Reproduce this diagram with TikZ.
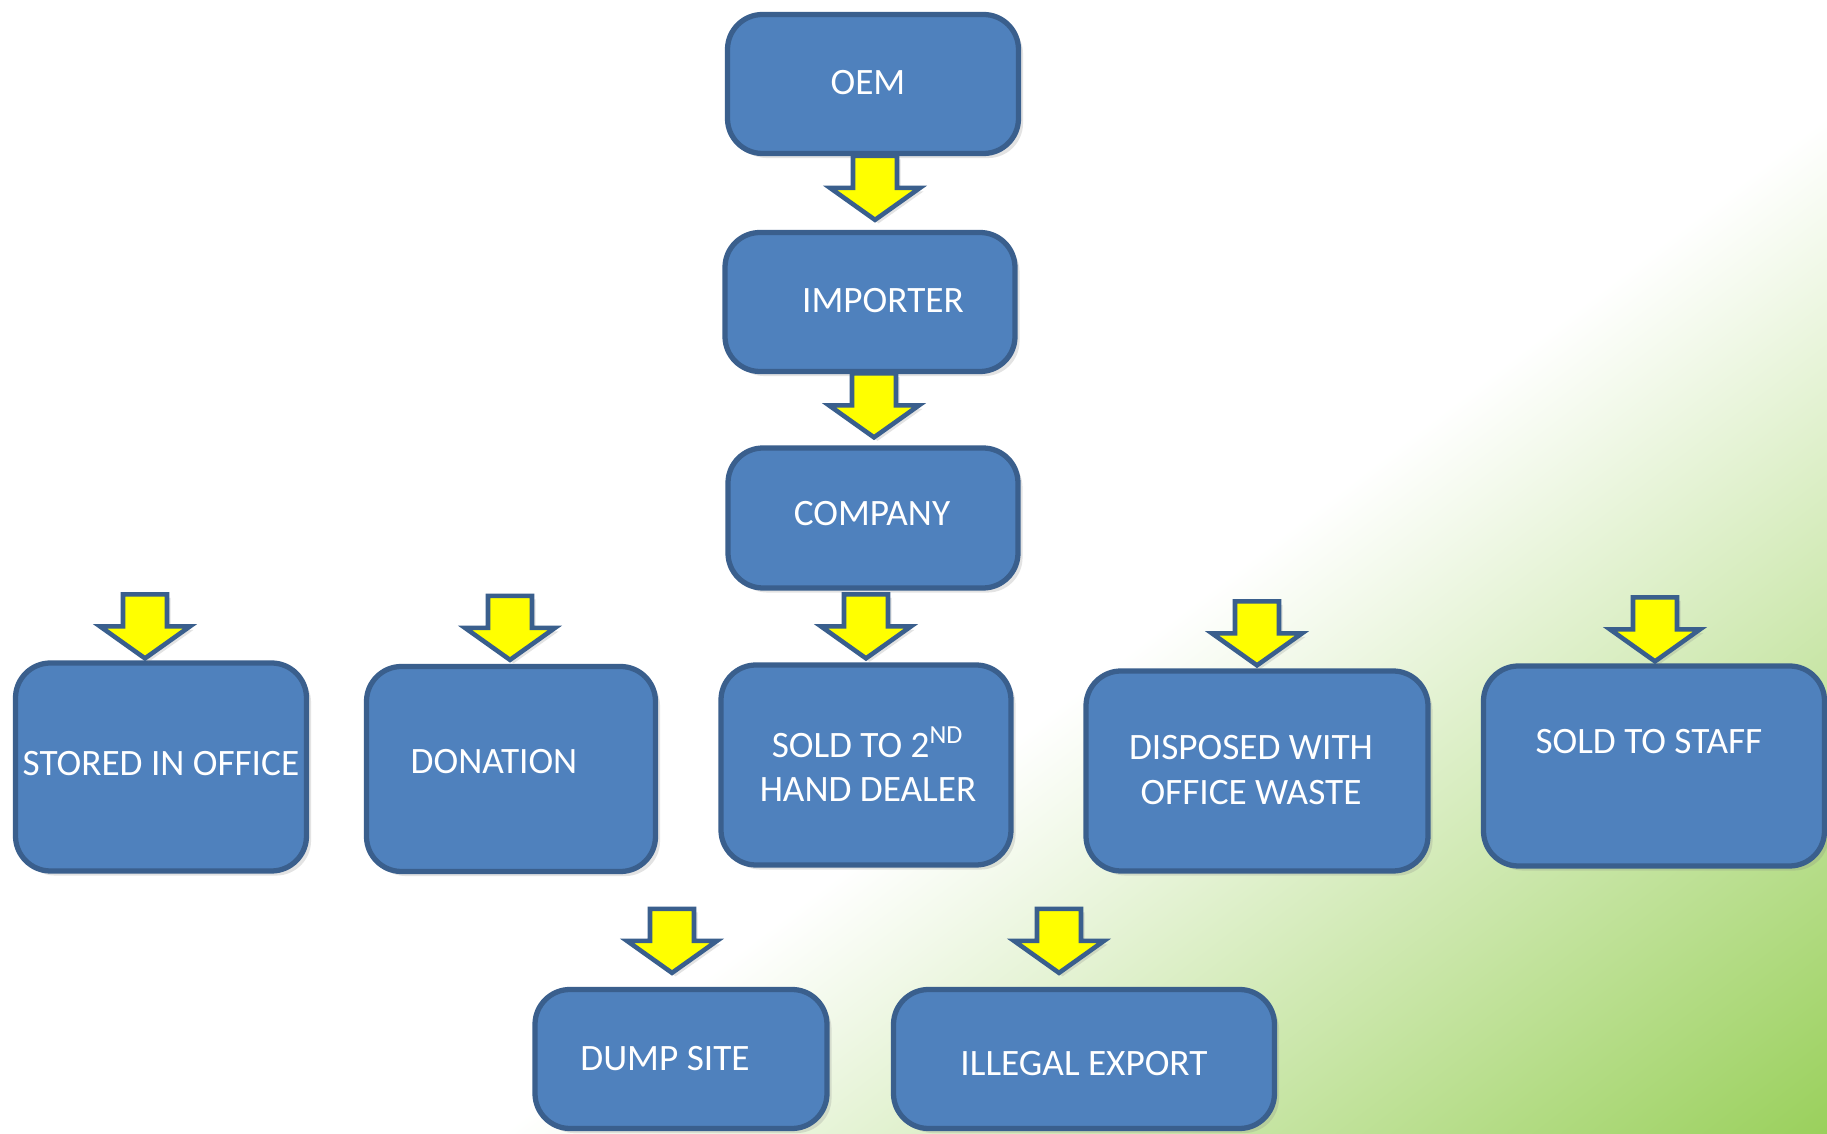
\documentclass[tikz,border=0pt]{standalone}
\usepackage{fontspec}
\setmainfont{Carlito}
\usetikzlibrary{calc,shadows}

\definecolor{boxfill}{HTML}{4F81BD}
\definecolor{boxline}{HTML}{3A5F8D}
\definecolor{bggreen}{HTML}{9AD05C}
\definecolor{arrowfill}{HTML}{FFFF00}

\tikzset{
	flowbox/.style={draw=boxline, line width=1.5pt, fill=boxfill, rounded corners=3.5mm,
		drop shadow={shadow xshift=1.3pt, shadow yshift=-1.3pt, opacity=.22}},
	boxtext/.style={text=white, align=center, inner sep=0pt,
		font=\fontsize{10.6}{12.6}\selectfont},
	downarrow/.pic={
		\draw [draw=boxline, line width=1.3pt, fill=arrowfill, line join=miter,
			drop shadow={shadow xshift=1pt, shadow yshift=-1pt, opacity=.22}]
			(-22,-64) -- (22,-64) -- (22,-32) -- (45,-32) -- (0,0) -- (-45,-32) -- (-22,-32) -- cycle;
	}
}

\begin{document}
\begin{tikzpicture}[x=0.1mm, y=-0.1mm]
			\useasboundingbox (0,0) rectangle (1827,1134);
			% white to green towards the lower right
			\begin{scope}
				\clip (0,0) rectangle (1827,1134);
				\fill [white] (0,0) rectangle (1827,1134);
				\shade [left color=white, right color=bggreen,
					transform canvas={rotate around={-52.5:(913.5,567)}}]
					(1111.5,-700) rectangle (1919.5,1800);
				\fill [bggreen, transform canvas={rotate around={-52.5:(913.5,567)}}]
					(1919,-700) rectangle (2200,1800);
			\end{scope}
			
			% chain from the maker down
			\node [flowbox, minimum width=29.1mm, minimum height=13.9mm] (oem) at (873,84) {};
			\node [flowbox, minimum width=29mm, minimum height=13.9mm] (importer) at (870,302) {};
			\node [flowbox, minimum width=29mm, minimum height=14mm] (company) at (873,518) {};
			\node [boxtext] (oemtxt) at (868,83) {OEM};
			\node [boxtext] (importertxt) at (883,301) {IMPORTER};
			\node [boxtext] (companytxt) at (872,514) {COMPANY};
			
			% where it ends up
			\node [flowbox, minimum width=29.1mm, minimum height=20.8mm] (stored) at (161,767) {};
			\node [flowbox, minimum width=28.9mm, minimum height=20.5mm] (donation) at (511,769) {};
			\node [flowbox, minimum width=29mm, minimum height=20mm] (dealer) at (866,765) {};
			\node [flowbox, minimum width=34.2mm, minimum height=20mm] (disposed) at (1257,771) {};
			\node [flowbox, minimum width=34.1mm, minimum height=20mm] (staff) at (1654,766) {};
			\node [boxtext] (storedtxt) at (161,764) {STORED IN OFFICE};
			\node [boxtext] (donationtxt) at (494,762) {DONATION};
			\node [boxtext] (dealertxt) at (868,764) {SOLD TO 2\textsuperscript{ND}\\HAND DEALER};
			\node [boxtext] (disposedtxt) at (1251,770) {DISPOSED WITH\\OFFICE WASTE};
			\node [boxtext] (stafftxt) at (1649,742) {SOLD TO STAFF};
			
			\node [flowbox, minimum width=29.2mm, minimum height=13.9mm] (dump) at (681,1059) {};
			\node [flowbox, minimum width=38.1mm, minimum height=13.9mm] (illegal) at (1084,1059) {};
			\node [boxtext] (dumptxt) at (665,1059) {DUMP SITE};
			\node [boxtext] (illegaltxt) at (1084,1064) {ILLEGAL EXPORT};
			
			% block arrows, tip on the box below
			\pic at ($(importer.north)+(5,-10)$) {downarrow};
			\pic at ($(company.north)+(1,-8)$) {downarrow};
			\pic at ($(dealer.north)+(0,-4)$) {downarrow};
			\pic at ($(stored.north)+(-16,-2)$) {downarrow};
			\pic at ($(donation.north)+(-1,-4)$) {downarrow};
			\pic at ($(disposed.north)+(0,-3)$) {downarrow};
			\pic at ($(staff.north)+(1,-2)$) {downarrow};
			\pic at ($(dump.north)+(-9,-14)$) {downarrow};
			\pic at ($(illegal.north)+(-25,-14)$) {downarrow};
\end{tikzpicture}
\end{document}
